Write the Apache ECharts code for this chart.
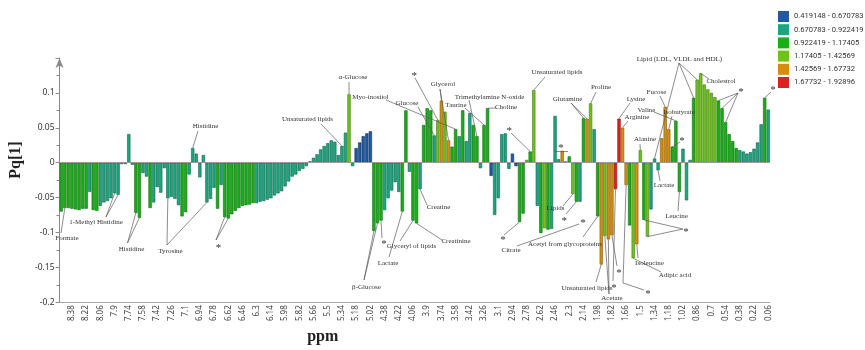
<!DOCTYPE html>
<html>
<head>
<meta charset="utf-8">
<script src="https://cdn.jsdelivr.net/npm/echarts@6/dist/echarts.min.js"></script>
<style>
  html, body { margin: 0; padding: 0; background: #fff; }
  #chart { width: 865px; height: 350px; }
</style>
</head>
<body>
<div id="chart"></div>
<script>
// Chemical-shift bins (ppm), water region removed between 4.98 and 4.54
const ppm = [
  8.50, 8.46, 8.42, 8.38, 8.34, 8.30, 8.26, 8.22, 8.18, 8.14, 8.10, 8.06, 8.02, 7.98, 7.94, 7.90,
  7.86, 7.82, 7.78, 7.74, 7.70, 7.66, 7.62, 7.58, 7.54, 7.50, 7.46, 7.42, 7.38, 7.34, 7.30, 7.26,
  7.22, 7.18, 7.14, 7.10, 7.06, 7.02, 6.98, 6.94, 6.90, 6.86, 6.82, 6.78, 6.74, 6.70, 6.66, 6.62,
  6.58, 6.54, 6.50, 6.46, 6.42, 6.38, 6.34, 6.30, 6.26, 6.22, 6.18, 6.14, 6.10, 6.06, 6.02, 5.98,
  5.94, 5.90, 5.86, 5.82, 5.78, 5.74, 5.70, 5.66, 5.62, 5.58, 5.54, 5.50, 5.46, 5.42, 5.38, 5.34,
  5.30, 5.26, 5.22, 5.18, 5.14, 5.10, 5.06, 5.02,
  4.50, 4.46, 4.42, 4.38, 4.34, 4.30, 4.26, 4.22, 4.18, 4.14, 4.10, 4.06, 4.02, 3.98, 3.94, 3.90,
  3.86, 3.82, 3.78, 3.74, 3.70, 3.66, 3.62, 3.58, 3.54, 3.50, 3.46, 3.42, 3.38, 3.34, 3.30, 3.26,
  3.22, 3.18, 3.14, 3.10, 3.06, 3.02, 2.98, 2.94, 2.90, 2.86, 2.82, 2.78, 2.74, 2.70, 2.66, 2.62,
  2.58, 2.54, 2.50, 2.46, 2.42, 2.38, 2.34, 2.30, 2.26, 2.22, 2.18, 2.14, 2.10, 2.06, 2.02, 1.98,
  1.94, 1.90, 1.86, 1.82, 1.78, 1.74, 1.70, 1.66, 1.62, 1.58, 1.54, 1.50, 1.46, 1.42, 1.38, 1.34,
  1.30, 1.26, 1.22, 1.18, 1.14, 1.10, 1.06, 1.02, 0.98, 0.94, 0.90, 0.86, 0.82, 0.78, 0.74, 0.70,
  0.66, 0.62, 0.58, 0.54, 0.50, 0.46, 0.42, 0.38, 0.34, 0.30, 0.26, 0.22, 0.18, 0.14, 0.10, 0.06
];

// Pq[1] loading of each bin
const loading = [
  -0.070, -0.065, -0.065, -0.066, -0.067, -0.068, -0.066, -0.066, -0.042, -0.068, -0.069, -0.062, -0.057, -0.055, -0.051, -0.044,
  -0.046, -0.002, -0.002, 0.041, -0.003, -0.072, -0.079, -0.015, -0.020, -0.065, -0.057, -0.035, -0.043, -0.008, -0.051, -0.049,
  -0.052, -0.061, -0.077, -0.071, -0.017, 0.021, 0.013, -0.021, 0.011, -0.057, -0.052, -0.036, -0.066, -0.032, -0.078, -0.080,
  -0.074, -0.069, -0.065, -0.062, -0.061, -0.060, -0.058, -0.058, -0.056, -0.055, -0.053, -0.051, -0.047, -0.044, -0.041, -0.034,
  -0.027, -0.020, -0.017, -0.012, -0.009, -0.005, 0.002, 0.007, 0.012, 0.019, 0.024, 0.028, 0.032, 0.030, 0.011, 0.024,
  0.043, 0.098, -0.005, 0.021, 0.029, 0.038, 0.042, 0.045,
  -0.098, -0.087, -0.083, -0.068, -0.051, -0.040, -0.028, -0.042, -0.070, 0.075, -0.013, -0.083, -0.087, -0.038, 0.054, 0.078,
  0.075, 0.039, 0.061, 0.089, 0.073, 0.032, 0.023, 0.048, 0.038, 0.075, 0.031, 0.071, 0.054, 0.038, -0.008, 0.054,
  0.078, -0.019, -0.075, -0.051, 0.041, 0.042, -0.009, 0.013, -0.005, -0.085, -0.073, 0.004, 0.016, 0.104, -0.062, -0.101,
  -0.094, -0.096, -0.095, 0.067, 0.005, 0.017, 0.002, 0.009, -0.045, -0.056, -0.056, 0.064, 0.063, 0.085, 0.048, -0.077,
  -0.146, -0.105, -0.110, -0.104, -0.038, 0.063, 0.050, -0.032, -0.090, -0.137, -0.117, 0.018, -0.082, -0.106, -0.067, 0.006,
  -0.011, 0.035, 0.080, 0.048, 0.023, 0.060, -0.042, 0.020, -0.054, 0.004, 0.093, 0.119, 0.128, 0.112, 0.105, 0.100,
  0.094, 0.089, 0.078, 0.058, 0.041, 0.031, 0.021, 0.018, 0.016, 0.013, 0.015, 0.020, 0.029, 0.055, 0.093, 0.076
];

// VIP class of each bin (index into vipBands)
const vipClass = [
  2, 2, 2, 2, 2, 2, 2, 2, 1, 2, 2, 1, 1, 1, 1, 1,
  1, 1, 1, 1, 1, 2, 2, 1, 1, 2, 1, 1, 1, 1, 1, 1,
  1, 1, 2, 2, 1, 1, 1, 1, 1, 1, 1, 1, 2, 1, 2, 2,
  2, 2, 2, 2, 2, 2, 2, 1, 1, 1, 1, 1, 1, 1, 1, 1,
  1, 1, 1, 1, 1, 1, 1, 1, 1, 1, 1, 1, 1, 1, 1, 1,
  1, 3, 1, 0, 0, 0, 0, 0,
  2, 2, 2, 1, 1, 1, 1, 1, 2, 2, 1, 2, 2, 1, 2, 2,
  2, 1, 3, 4, 3, 4, 2, 2, 1, 2, 1, 1, 2, 2, 1, 2,
  2, 0, 1, 1, 1, 1, 1, 0, 0, 2, 2, 3, 2, 3, 1, 2,
  3, 2, 1, 1, 1, 4, 4, 2, 3, 2, 1, 2, 4, 3, 1, 2,
  4, 3, 4, 4, 5, 5, 4, 4, 2, 3, 4, 3, 2, 3, 1, 1,
  1, 4, 4, 4, 2, 2, 2, 1, 1, 1, 2, 3, 3, 3, 3, 3,
  3, 2, 2, 2, 2, 2, 2, 1, 1, 1, 1, 1, 1, 1, 2, 1
];

const vipBands = [
  '0.419148 - 0.670783',
  '0.670783 - 0.922419',
  '0.922419 - 1.17405',
  '1.17405 - 1.42569',
  '1.42569 - 1.67732',
  '1.67732 - 1.92896'
];
const bandFill = ['#1f5aa5', '#1ea47f', '#1aae1a', '#6fc21c', '#d38e12', '#e0201c'];
const bandEdge = ['#0f3566', '#0e6a50', '#0c6e0c', '#437a10', '#875a08', '#8c1210'];

// Metabolite assignments: label centre (px), leader-line start (px), target bins
const annotations = [
  { text: 'Formate', at: [67, 238], from: [61, 233], to: [1] },
  { text: '1-Methyl Histidine', at: [96, 222], from: [106, 217], to: [15, 16] },
  { text: 'Histidine', at: [131.5, 249], from: [127.5, 243], to: [21, 22] },
  { text: 'Tyrosine', at: [170.5, 251], from: [167, 245], to: [30, 41] },
  { text: 'Histidine', at: [205.5, 126], from: [198, 131], to: [37] },
  { text: '*', at: [218.5, 246], from: [216, 240], to: [46, 47] },
  { text: 'Unsaturated lipids', at: [307.5, 119.3], from: [321, 124], to: [79] },
  { text: 'α-Glucose', at: [353, 76.7], from: [349, 82], to: [81] },
  { text: 'β-Glucose', at: [366.5, 286.7], from: [364, 280], to: [88, 89] },
  { text: '*', at: [384, 242], from: [382, 238], to: [90] },
  { text: 'Lactate', at: [388, 263.3], from: [389, 257], to: [96] },
  { text: 'Glyceryl of lipids', at: [411.5, 246], from: [400, 241], to: [99] },
  { text: 'Creatinine', at: [456, 241], from: [442, 240], to: [100] },
  { text: 'Creatine', at: [438.5, 207.3], from: [427, 205], to: [101] },
  { text: 'Myo-inositol', at: [370.5, 97.3], from: [386, 100], to: [111] },
  { text: 'Glucose', at: [407, 103.3], from: [418, 107], to: [105] },
  { text: '*', at: [414.3, 74], from: [415, 78], to: [106] },
  { text: 'Glycerol', at: [443, 84.3], from: [440, 89], to: [107, 109] },
  { text: 'Trimethylamine N-oxide', at: [489.5, 97.3], from: [469, 100], to: [117] },
  { text: 'Taurine', at: [456, 105], from: [465, 108], to: [119] },
  { text: 'Choline', at: [506, 106.7], from: [496, 108], to: [120] },
  { text: '*', at: [509.3, 128.3], from: [511, 133], to: [132] },
  { text: 'Unsaturated lipids', at: [557, 71.7], from: [545, 77], to: [133] },
  { text: '*', at: [503, 238], from: [504, 235], to: [129] },
  { text: 'Citrate', at: [511, 250], from: [517, 246], toPx: [[579, 224]] },
  { text: '*', at: [583, 221] },
  { text: 'Acetyl from glycoproteins', at: [565, 244], from: [583, 237], to: [151] },
  { text: 'Lipids', at: [555.5, 208.3], from: [563, 206], to: [144] },
  { text: '*', at: [564.3, 218.3], from: [566, 214], to: [145] },
  { text: '*', at: [561, 146], bar: [[555, 151.5], [568, 151.5]] },
  { text: 'Glutamine', at: [567.5, 99.3], from: [571, 103], to: [147, 148] },
  { text: 'Proline', at: [601, 87.3], from: [596, 92], to: [149] },
  { text: 'Unsaturated lipids', at: [587, 287.7], from: [596, 282], to: [152] },
  { text: 'Acetate', at: [612, 298.3], from: [609, 294], to: [153, 154] },
  { text: '*', at: [619, 270.7], from: [617, 266], to: [155] },
  { text: '*', at: [614, 285.5], from: [613, 281], to: [156] },
  { text: 'Lysine', at: [636, 99.3], from: [630, 103], to: [157] },
  { text: 'Arginine', at: [637, 116.7], from: [628, 121], to: [158] },
  { text: '*', at: [648, 292], from: [644, 290], via: [623, 283], to: [159] },
  { text: 'Alanine', at: [645, 139.3], from: [640, 144], to: [163] },
  { text: 'Isoleucine', at: [649.5, 263.3], from: [638, 258], to: [162] },
  { text: 'Adipic acid', at: [675, 275], from: [661, 272], to: [161] },
  { text: '*', at: [686, 230], from: [683, 229], to: [164, 165] },
  { text: 'Fucose', at: [656.5, 91.7], from: [660, 96], to: [170] },
  { text: 'Valine', at: [646.5, 110], from: [654, 112], to: [173] },
  { text: 'Isobutyrate', at: [679, 111.7], from: [672, 116], to: [171] },
  { text: 'Lactate', at: [664, 185], from: [660, 181], to: [168] },
  { text: 'Leucine', at: [676.5, 216], from: [678, 211], to: [174] },
  { text: '*', at: [682, 138.7], from: [680, 142], to: [172] },
  { text: 'Lipid (LDL, VLDL and HDL)', at: [679.5, 59.3], from: [679, 63], to: [167, 178, 179] },
  { text: 'Cholestrol', at: [721, 81], from: [709, 79], to: [180] },
  { text: '*', at: [741, 90], from: [738, 93], to: [185, 186, 187] },
  { text: '*', at: [773, 88], from: [771, 92], to: [198] }
];

const chart = echarts.init(document.getElementById('chart'), null, { renderer: 'canvas' });

const series = vipBands.map((name, k) => ({
  name: name,
  type: 'bar',
  barGap: '-100%',
  barCategoryGap: '8%',
  data: loading.map((v, i) => (vipClass[i] === k ? v : '-')),
  itemStyle: { color: bandFill[k], borderColor: bandEdge[k], borderWidth: 0.6 },
  z: 2
}));
// zero baseline
series[0].markLine = {
  silent: true,
  symbol: 'none',
  label: { show: false },
  lineStyle: { color: '#9a9a9a', width: 1, type: 'solid' },
  data: [{ yAxis: 0 }],
  z: 5
};

chart.setOption({
  animation: false,
  backgroundColor: '#ffffff',
  grid: { left: 43, right: 95, top: 58, bottom: 38.5, containLabel: false },
  legend: {
    orient: 'vertical',
    left: 778,
    top: 11,
    padding: 0,
    icon: 'rect',
    itemWidth: 11,
    itemHeight: 11,
    itemGap: 2.2,
    selectedMode: false,
    itemStyle: { borderWidth: 0 },
    textStyle: { fontFamily: 'Roboto', fontSize: 7.6, color: '#333' },
    data: vipBands
  },
  xAxis: {
    type: 'category',
    data: ppm.map(v => String(v)),
    name: 'ppm',
    nameLocation: 'middle',
    nameGap: 25,
    nameTextStyle: { fontFamily: 'Liberation Serif', fontWeight: 'bold', fontSize: 16, color: '#222', padding: [0, 184, 0, 0] },
    axisLine: { onZero: false, lineStyle: { color: '#a8a8a8', width: 1 } },
    axisTick: { alignWithLabel: true, length: 3, interval: (i) => i % 4 === 3, lineStyle: { color: '#888' } },
    axisLabel: {
      interval: (i) => i % 4 === 3,
      rotate: 90,
      fontFamily: 'Noto Sans',
      fontSize: 8,
      color: '#444',
      margin: 3
    },
    splitLine: { show: false }
  },
  yAxis: {
    type: 'value',
    min: -0.2,
    max: 0.15,
    interval: 0.05,
    name: 'Pq[1]',
    nameLocation: 'middle',
    nameRotate: 90,
    nameGap: 19,
    nameTextStyle: { fontFamily: 'Liberation Serif', fontWeight: 'bold', fontSize: 16, color: '#222', padding: [0, 0, 0, 40] },
    axisLine: { show: true, symbol: ['none', 'arrow'], symbolSize: [6, 10], lineStyle: { color: '#8a8a8a', width: 1 } },
    axisTick: { show: true, length: 4, lineStyle: { color: '#8a8a8a' } },
    minorTick: { show: true, splitNumber: 2, length: 3, lineStyle: { color: '#8a8a8a' } },
    axisLabel: {
      fontFamily: 'Noto Sans',
      fontSize: 8.5,
      color: '#333',
      margin: 5,
      formatter: (v) => (v > 0.12 ? '' : String(+v.toFixed(3)))
    },
    splitLine: { show: false }
  },
  series: series
});

// Leader lines and metabolite labels placed over the bars
function barEnd(i) {
  return chart.convertToPixel({ xAxisIndex: 0, yAxisIndex: 0 }, [i, loading[i]]);
}
const graphics = [];
const lineStyle = { stroke: '#5a5a5a', lineWidth: 0.7, fill: null };
annotations.forEach(a => {
  const isStar = a.text === '*';
  const ends = (a.to || []).map(barEnd).concat(a.toPx || []);
  ends.forEach(p => {
    const pts = a.via ? [a.from, a.via, p] : [a.from, p];
    graphics.push({ type: 'polyline', shape: { points: pts }, style: lineStyle, silent: true, z: 10 });
  });
  if (a.bar) {
    graphics.push({ type: 'polyline', shape: { points: a.bar }, style: lineStyle, silent: true, z: 10 });
  }
  graphics.push({
    type: 'text',
    x: a.at[0],
    y: a.at[1] + (isStar ? 2.5 : 0),
    silent: true,
    z: 11,
    style: {
      text: a.text,
      fontFamily: 'Liberation Serif',
      fontSize: isStar ? 11 : 7,
      fill: '#333',
      align: 'center',
      verticalAlign: 'middle'
    }
  });
});
chart.setOption({ graphic: graphics });
</script>
</body>
</html>
